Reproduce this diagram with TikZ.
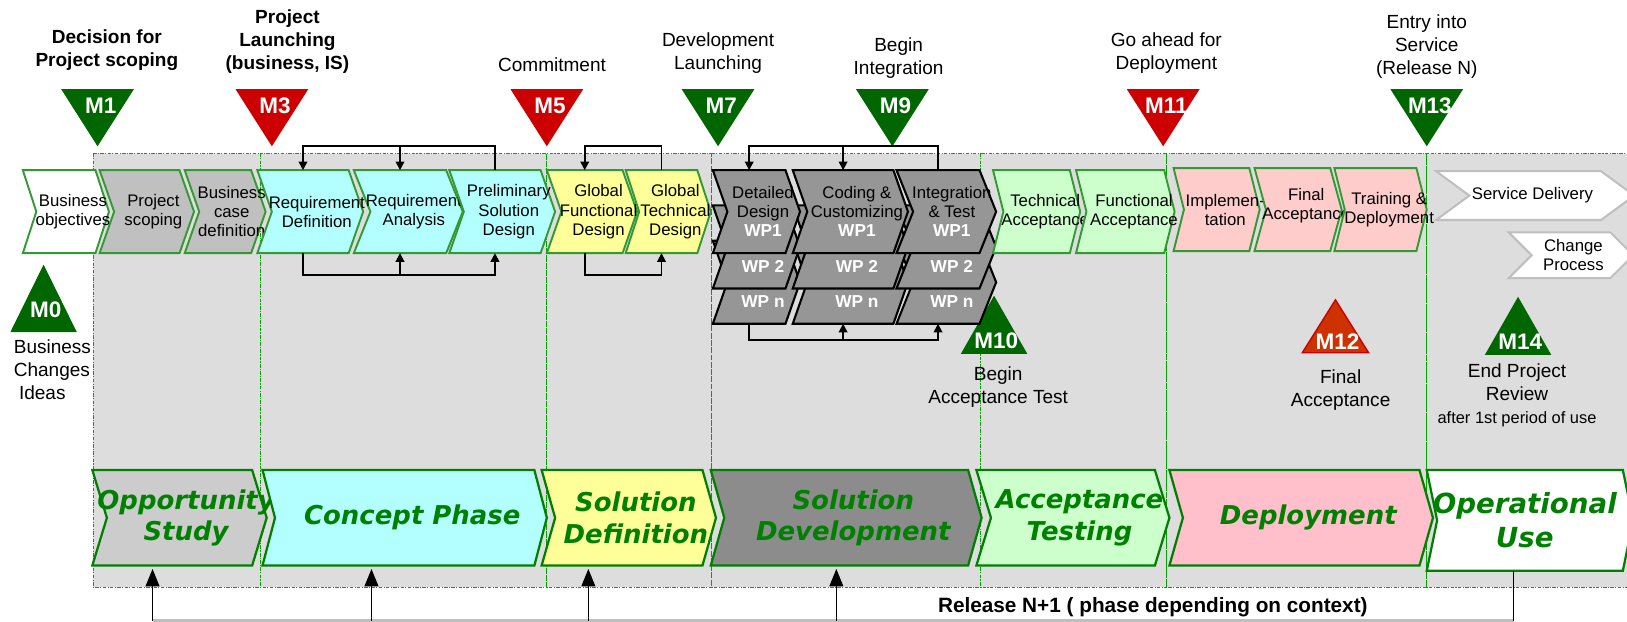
\documentclass[tikz,border=0pt]{standalone}
\usepackage{fontspec}
\setmainfont{Liberation Sans}
\newfontfamily\phasefont{DejaVu Sans}
\usetikzlibrary{arrows.meta, positioning}
\usepackage{xcolor}
\definecolor{stepgreen}{RGB}{51,153,51}
\definecolor{phasegreen}{RGB}{0,128,0}
\definecolor{framegreen}{RGB}{0,165,0}
\definecolor{mgreen}{RGB}{0,102,0}
\definecolor{mred}{RGB}{204,0,0}
\definecolor{morange}{RGB}{204,51,0}
\definecolor{bggray}{RGB}{221,221,221}
\definecolor{scopegray}{RGB}{192,192,192}
\definecolor{oppgray}{RGB}{204,204,204}
\definecolor{devgray}{RGB}{150,150,150}
\definecolor{devphase}{RGB}{140,140,140}
\definecolor{conceptcyan}{RGB}{179,255,255}
\definecolor{defyellow}{RGB}{255,255,153}
\definecolor{accgreen}{RGB}{204,255,204}
\definecolor{deppink}{RGB}{255,204,204}
\definecolor{depphase}{RGB}{255,192,203}
\def\unitpt{0.6pt}
\newcommand\wpfont{\bfseries\fontsize{10}{11}\selectfont\color{white}}

% chevron: name, style, left, base, depth, top, bottom
\newcommand\chev[7]{%
  \draw[#2] ({#3},{#6}) -- ({#4},{#6}) -- ({(#4)+(#5)},{((#6)+(#7))/2}) -- ({#4},{#7})
    -- ({#3},{#7}) -- ({(#3)+(#5)},{((#6)+(#7))/2}) -- cycle;
  \node[box, minimum width={((#4)-(#3))*\unitpt}, minimum height={((#7)-(#6))*\unitpt}]
    (#1) at ({((#3)+(#4))/2},{((#6)+(#7))/2}) {};
}

\begin{document}
\begin{tikzpicture}[x=0.6pt, y=-0.6pt, >={Triangle[length=5pt,width=5pt]}]
    \tikzstyle{box}=[inner sep=0pt, outer sep=0pt, draw=none]
    \tikzstyle{substep}=[draw=stepgreen, line width=1.1pt]
    \tikzstyle{wstep}=[substep, fill=white]
    \tikzstyle{scopestep}=[substep, fill=scopegray]
    \tikzstyle{cptstep}=[substep, fill=conceptcyan]
    \tikzstyle{defstep}=[substep, fill=defyellow]
    \tikzstyle{devstep}=[draw=black, line width=1.2pt, fill=devgray]
    \tikzstyle{accstep}=[substep, fill=accgreen]
    \tikzstyle{depstep}=[substep, fill=deppink]
    \tikzstyle{opstep}=[draw=black!25, line width=1.2pt, fill=white]
    \tikzstyle{steptxt}=[inner sep=0pt, align=center, xshift=8pt, font=\fontsize{9.7}{11}\selectfont]
    \tikzstyle{wptxt}=[inner sep=0pt, font=\bfseries\fontsize{10}{11}\selectfont, text=white]
    \tikzstyle{phase}=[draw=phasegreen, line width=1.3pt]
    \tikzstyle{phasetxt}=[inner sep=0pt, align=center, xshift=8pt, text=phasegreen,
        font=\phasefont\bfseries\itshape\fontsize{15}{18}\selectfont]
    \tikzstyle{mlab}=[inner sep=0pt, text=white, font=\bfseries\fontsize{13}{15}\selectfont]
    \tikzstyle{mtxt}=[inner sep=0pt, align=center, font=\fontsize{11}{13.2}\selectfont]
    \tikzstyle{msgreen}=[fill=mgreen]
    \tikzstyle{msred}=[fill=mred]
    \tikzstyle{msorange}=[fill=morange, draw=mred, line width=0.8pt]
    \tikzstyle{frame}=[draw=framegreen, line width=0.7pt, dash pattern=on 2pt off 0.8pt on 0.6pt off 0.8pt]
    \tikzstyle{fb}=[->, line width=1pt]
    \tikzstyle{rel}=[-{Triangle[length=10pt,width=8pt]}, line width=0.6pt, shorten >=2pt]

    \clip (0,0) rectangle (1568,599);

%   phase columns
    \fill[bggray] (90,148) rectangle (1580,566);
    \foreach \xa/\xb in {90/251, 251/527, 527/686, 686/945, 945/1124, 1124/1375, 1375/1580}
        \draw[frame] (\xa,148) rectangle (\xb,566);

%   milestones on top
    \foreach \mn/\x/\col/\tx/\ty/\txt in {
        1/94/msgreen/103/48/{\bfseries Decision for\\\bfseries Project scoping},
        3/262/msred/277/40/{\bfseries Project\\\bfseries Launching\\\bfseries (business, IS)},
        5/527/msred/532/62/{Commitment},
        7/692/msgreen/692/51/{Development\\Launching},
        9/860/msgreen/866/56/{Begin\\Integration},
        11/1121/msred/1124/51/{Go ahead for\\Deployment},
        13/1375/msgreen/1375/45/{Entry into\\Service\\(Release N)}}{
        \path[\col] ({\x-35},86) -- ({\x+35},86) -- (\x,141) -- cycle;
        \node[mlab] (m\mn) at ({\x+3},102) {M\mn};
        \node[mtxt] (mt\mn) at (\tx,\ty) {\txt};
    }

%   milestones below
    \foreach \mn/\x/\yt/\yb/\ly/\col in {0/42/255/320/299/msgreen, 10/958/285/341/328/msgreen,
        12/1287/289/340/329/msorange, 14/1463/286/342/329/msgreen}{
        \path[\col] ({\x-32},\yb) -- ({\x+32},\yb) -- (\x,\yt) -- cycle;
        \node[mlab] (m\mn) at ({\x+2},\ly) {M\mn};
    }
    \node[mtxt, anchor=west, align=left] (mt0) at (13,356) {Business\\Changes\\\hspace*{3pt}Ideas};
    \node[mtxt] (mt10) at (962,373) {Begin\\Acceptance Test};
    \node[mtxt] (mt12) at (1292,376) {Final\\Acceptance};
    \node[mtxt] (mt14) at (1462,381) {End Project\\Review\\{\fontsize{9.5}{11}\selectfont after 1st period of use}};

%   steps
    \chev{bo}{wstep}{22}{92}{13}{164}{244}
    \node[steptxt] (bot) at (bo) {Business\\objectives};
    \chev{ps}{scopestep}{96}{173}{14}{164}{244}
    \node[steptxt] (pst) at (ps) {Project\\scoping};
    \chev{bc}{scopestep}{178}{242}{14}{164}{244}
    \node[steptxt] (bct) at (bc) {Business\\case\\definition};
    \chev{rd}{cptstep}{248}{336}{14}{164}{244}
    \node[steptxt] (rdt) at (rd) {Requirement\\Definition};
    \chev{ra}{cptstep}{341}{430}{16}{164}{244}
    \node[steptxt] (rat) at (ra) {Requirement\\Analysis};
    \chev{psd}{cptstep}{433}{521}{14}{164}{244}
    \node[steptxt] (psdt) at (psd) {Preliminary\\Solution\\Design};
    \chev{gfd}{defstep}{527}{600}{14}{164}{244}
    \node[steptxt] (gfdt) at (gfd) {Global\\Functional\\Design};
    \chev{gtd}{defstep}{603}{672}{13}{164}{244}
    \node[steptxt] (gtdt) at (gtd) {Global\\Technical\\Design};

%   work packages, back to front
    \foreach \lay/\dy in {3/68, 2/34, 1/0}{
        \foreach \st/\xl/\xr/\dep in {dd/687/757/14, cc/764/861/14, it/864/944/16}{
            \chev{\st\lay}{devstep}{\xl}{\xr}{\dep}{164+\dy}{244+\dy}
        }
    }
    \node[steptxt] (dd1t) at (dd1) {Detailed\\Design\\{\wpfont WP1}};
    \node[steptxt] (cc1t) at (cc1) {Coding \&\\Customizing\\{\wpfont WP1}};
    \node[steptxt] (it1t) at (it1) {Integration\\\& Test\\{\wpfont WP1}};
    \foreach \st in {dd, cc, it}{
        \node[wptxt] (\st2w) at ([xshift=8pt, yshift=-11pt]\st2) {WP 2};
        \node[wptxt] (\st3w) at ([xshift=8pt, yshift=-11pt]\st3) {WP n};
    }

    \chev{ta}{accstep}{957}{1031}{10}{164}{244}
    \node[steptxt] (tat) at (ta) {Technical\\Acceptance};
    \chev{fa}{accstep}{1037}{1122}{10}{164}{244}
    \node[steptxt] (fat) at (fa) {Functional\\Acceptance};
    \chev{im}{depstep}{1131}{1204}{10}{162}{242}
    \node[steptxt] (imt) at (im) {Implemen-\\tation};
    \chev{fin}{depstep}{1209}{1282}{11}{162}{242}
    \node[steptxt] (fint) at ([yshift=2pt]fin) {Final\\Acceptance};
    \chev{td}{depstep}{1286}{1365}{10}{162}{242}
    \node[steptxt] (tdt) at (td) {Training \&\\Deployment};
    \chev{sd}{opstep}{1384}{1543}{32}{165}{212}
    \node[steptxt] (sdt) at (sd) {Service Delivery};
    \chev{cp}{opstep}{1454}{1552}{22}{224}{268}
    \node[steptxt] (cpt) at (cp) {Change\\Process};

%   feedback loops
    \coordinate (fbup) at (0,141);
    \coordinate (fbdn) at (0,265);
    \coordinate (devdn) at (0,328);
    \draw[fb] (psd.north) |- (rd.north |- fbup) -- (rd.north);
    \draw[fb] (ra.north |- fbup) -- (ra.north);
    \draw[fb] (rd.south) |- (psd.south |- fbdn) -- (psd.south);
    \draw[fb] (ra.south |- fbdn) -- (ra.south);
    \draw[fb] (gtd.north) |- (gfd.north |- fbup) -- (gfd.north);
    \draw[fb] (gfd.south) |- (gtd.south |- fbdn) -- (gtd.south);
    \draw[fb] (it1.north) |- (dd1.north |- fbup) -- (dd1.north);
    \draw[fb] (cc1.north |- fbup) -- (cc1.north);
    \draw[fb] (dd3.south) |- (it3.south |- devdn) -- (it3.south);
    \draw[fb] (cc3.south |- devdn) -- (cc3.south);

%   phases
    \chev{os}{phase, fill=oppgray}{89}{243}{14}{453}{545}
    \node[phasetxt] (ost) at (os) {Opportunity\\Study};
    \chev{cph}{phase, fill=conceptcyan}{253}{515}{12}{453}{545}
    \node[phasetxt] (cpht) at (cph) {Concept Phase};
    \chev{sdf}{phase, fill=defyellow}{522}{677}{13}{453}{545}
    \node[phasetxt] (sdft) at (sdf) {Solution\\Definition};
    \chev{sdv}{phase, fill=devphase}{685}{933}{13}{453}{545}
    \node[phasetxt] (sdvt) at (sdv) {Solution\\Development};
    \chev{act}{phase, fill=accgreen}{941}{1113}{14}{453}{545}
    \node[phasetxt] (actt) at (act) {Acceptance\\Testing};
    \chev{dep}{phase, fill=depphase}{1127}{1368}{13}{453}{545}
    \node[phasetxt] (dept) at (dep) {Deployment};
    \chev{ou}{phase, fill=white}{1375}{1564}{10}{453}{550}
    \node[phasetxt, xshift=-8pt, font=\phasefont\bfseries\itshape\fontsize{16}{20}\selectfont] (out) at (ou) {Operational\\Use};

%   next release
    \coordinate (r1) at (147,598);
    \coordinate (r2) at (358,598);
    \coordinate (r3) at (567,598);
    \coordinate (r4) at (806,598);
    \coordinate (r5) at (1459,598);
    \draw[black!25, line width=1.2pt] (r1) -- (r5);
    \foreach \rr/\phs in {r1/os, r2/cph, r3/sdf, r4/sdv}
        \draw[rel] (\rr) -- (\rr |- \phs.south);
    \draw[line width=0.6pt] (r5) -- (r5 |- ou.south);
    \node[inner sep=0pt, font=\bfseries\fontsize{12}{14}\selectfont] (rel) at (1111,585) {Release N+1 ( phase depending on context)};
\end{tikzpicture}
\end{document}
